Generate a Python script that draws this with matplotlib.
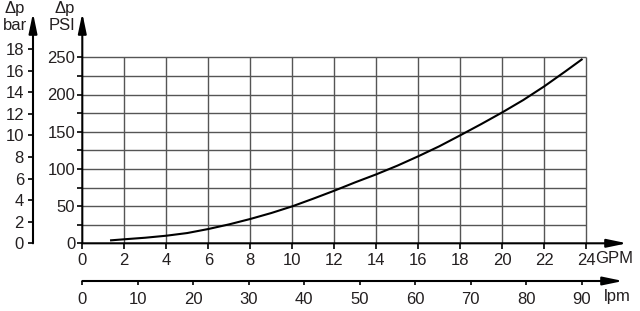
import numpy as np
import matplotlib.pyplot as plt

plt.rcParams['font.family'] = ['Liberation Sans', 'DejaVu Sans']

# pressure drop curve
flow_gpm = [1.37, 2, 3, 4, 5, 6, 7, 8, 9, 10, 11, 12, 13, 14, 15, 16,
            17, 18, 19, 20, 21, 22, 23, 23.78]
dp_psi = [4.0, 5.4, 7.5, 10.2, 13.8, 19.2, 25.5, 32.7, 40.7, 49.7, 60, 70.7,
          82, 92.7, 104.3, 117, 130.4, 145.2, 160.3, 176, 192.6, 211,
          231, 247]

gpm_ticks = np.arange(0, 25, 2)
psi_major = np.arange(0, 251, 50)
psi_minor = np.arange(25, 251, 50)
bar_ticks = np.arange(0, 19, 2)
lpm_ticks = np.arange(0, 91, 10)

PSI_PER_BAR = 14.5038
LPM_PER_GPM = 3.78541

TXT = '#231f20'
FS = 12
W, H = 640, 311

# pixel layout of the reference
x0, x_tip, x_lpm_tip = 82.3, 627, 623
y0, y_tip, y_lpm = 243.3, 13, 281
px_per_gpm = 21.0
px_per_psi = 186 / 250

xmax = (x_tip - x0) / px_per_gpm
ymax = (y0 - y_tip) / px_per_psi

fig = plt.figure(figsize=(6.4, 3.11), dpi=100)
ax = fig.add_axes([x0 / W, (H - y0) / H, (x_tip - x0) / W, (y0 - y_tip) / H])
ax.set_facecolor('none')
ax.set_xlim(0, xmax)
ax.set_ylim(0, ymax)

# grid only inside the 24 GPM x 250 PSI box
ax.vlines(gpm_ticks[1:], 0, 250, color='#555555', lw=1.0, zorder=1)
ax.hlines(np.arange(25, 251, 25), 0, 24, color='#555555', lw=1.0, zorder=1)

ax.plot(flow_gpm, dp_psi, color='black', lw=1.5, zorder=3)

for s in ax.spines.values():
    s.set_visible(False)

def arrow(a, xy_end, xy_start):
    a.annotate('', xy=xy_end, xytext=xy_start, xycoords='axes fraction',
               arrowprops=dict(arrowstyle='-|>,head_length=1.2,head_width=0.25',
                               lw=1.5, color='black', shrinkA=0, shrinkB=0,
                               mutation_scale=10),
               annotation_clip=False)

arrow(ax, (1, 0), (0, 0))
arrow(ax, (0, 1), (0, 0))

ax.set_xticks(gpm_ticks)
ax.set_xticklabels([str(v) for v in gpm_ticks])
ax.set_yticks(psi_major)
ax.set_yticks(psi_minor, minor=True)
ax.tick_params(axis='x', direction='out', length=4, width=1.2, pad=3,
               labelsize=FS, labelcolor=TXT)
ax.tick_params(axis='y', which='both', direction='out', length=3.5, width=1.2,
               pad=1.5, labelsize=FS, labelcolor=TXT)

ax.annotate('GPM', xy=(24, 0), xytext=(6.5, -11.3), textcoords='offset points',
            ha='left', va='center', fontsize=FS, color=TXT,
            annotation_clip=False)

# bar scale on the far left
axb = fig.add_axes([33 / W, (H - y0) / H, 0.001, (y0 - y_tip) / H])
axb.set_facecolor('none')
axb.set_ylim(0, ymax / PSI_PER_BAR)
axb.set_xticks([])
axb.set_yticks(bar_ticks)
for s in axb.spines.values():
    s.set_visible(False)
arrow(axb, (0, 1), (0, 0))
axb.tick_params(axis='y', direction='out', length=3.5, width=1.2, pad=3,
                labelsize=FS, labelcolor=TXT)

# lpm scale below
lpm_max = (x_lpm_tip - x0) / px_per_gpm * LPM_PER_GPM
axl = fig.add_axes([x0 / W, (H - y_lpm) / H, (x_lpm_tip - x0) / W, 0.001])
axl.set_facecolor('none')
axl.set_xlim(0, lpm_max)
axl.set_yticks([])
axl.set_xticks(lpm_ticks)
for s in axl.spines.values():
    s.set_visible(False)
arrow(axl, (1, 0), (0, 0))
axl.tick_params(axis='x', direction='out', length=3, width=1.2, pad=5,
                labelsize=FS, labelcolor=TXT)
axl.annotate('lpm', xy=(90, 0), xytext=(16, -11.5), textcoords='offset points',
             ha='left', va='center', fontsize=FS, color=TXT,
             annotation_clip=False)

fig.text(15 / W, 1 - 17 / H, 'Δp\nbar', ha='center', va='center',
         multialignment='center', fontsize=FS, color=TXT, linespacing=1.1)
fig.text(75 / W, 1 - 17 / H, 'Δp\nPSI', ha='right', va='center',
         multialignment='right', fontsize=FS, color=TXT, linespacing=1.1)

fig.savefig('out.png', dpi=100)
